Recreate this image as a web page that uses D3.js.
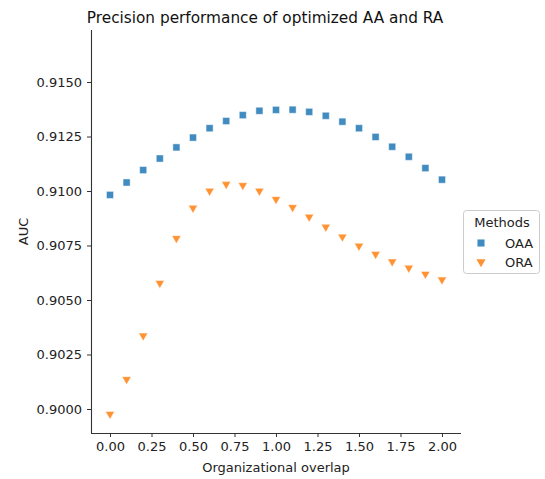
<!DOCTYPE html>
<html>
<head>
<meta charset="utf-8">
<script src="https://cdn.jsdelivr.net/npm/d3@7"></script>
<style>
  body { margin: 0; background: #fff; }
  svg { font-family: "DejaVu Sans", sans-serif; }
</style>
</head>
<body>
<svg id="chart" width="545" height="479"></svg>
<script>
const overlap = [0.0,0.1,0.2,0.3,0.4,0.5,0.6,0.7,0.8,0.9,1.0,1.1,1.2,1.3,1.4,1.5,1.6,1.7,1.8,1.9,2.0];
const oaa = [0.90982,0.91039,0.91096,0.91149,0.91200,0.91245,0.91288,0.91321,0.91348,0.91368,0.91372,0.91373,0.91363,0.91345,0.91318,0.91288,0.91248,0.91203,0.91157,0.91105,0.91052];
const ora = [0.89977,0.90136,0.90336,0.90577,0.90783,0.90922,0.91000,0.91031,0.91026,0.91000,0.90962,0.90925,0.90881,0.90835,0.90790,0.90748,0.90710,0.90676,0.90647,0.90619,0.90593];
const xTicks = [0.00,0.25,0.50,0.75,1.00,1.25,1.50,1.75,2.00];
const yTicks = [0.9000,0.9025,0.9050,0.9075,0.9100,0.9125,0.9150];
const seriesNames = ["OAA","ORA"];
const colors = ["#1f77b4","#ff7f0e"];

const svg = d3.select("#chart");
const L = 91, R = 461, T = 30, B = 433;
const x = d3.scaleLinear().domain([-0.1145, 2.1145]).range([L, R]);
const y = d3.scaleLinear().domain([0.9000, 0.9150]).range([409, 82]);

// axes
const gx = svg.append("g").attr("transform", `translate(0,${B})`)
  .call(d3.axisBottom(x).tickValues(xTicks).tickFormat(d3.format(".2f")).tickSize(4).tickPadding(5).tickSizeOuter(0));
const gy = svg.append("g").attr("transform", `translate(${L},0)`)
  .call(d3.axisLeft(y).tickValues(yTicks).tickFormat(d3.format(".4f")).tickSize(4).tickPadding(5).tickSizeOuter(0));
[gx, gy].forEach(g => {
  g.select(".domain").attr("stroke", "#333").attr("stroke-width", 1.1);
  g.selectAll(".tick line").attr("stroke", "#333");
  g.selectAll(".tick text").attr("fill", "#222").style("font-size", "13px").style("font-family", "DejaVu Sans");
});
gx.select(".domain").attr("d", `M${L},0.5H${R}`);
gy.select(".domain").attr("d", `M0.5,${T}V${B}`);

// labels
svg.append("text").attr("x", (L + R) / 2).attr("y", 472).attr("text-anchor", "middle")
  .style("font-size", "13px").attr("fill", "#222").text("Organizational overlap");
svg.append("text").attr("transform", `translate(28,${(T + B) / 2}) rotate(-90)`).attr("text-anchor", "middle")
  .style("font-size", "13px").attr("fill", "#222").text("AUC");
svg.append("text").attr("x", 265).attr("y", 23).attr("text-anchor", "middle")
  .style("font-size", "15.3px").attr("fill", "#111").text("Precision performance of optimized AA and RA");

// marks
const sq = d3.symbol().type(d3.symbolSquare).size(50);
const tri = d3.symbol().type(d3.symbolTriangle).size(36);

svg.append("g").selectAll("path").data(overlap.map((v, i) => [v, oaa[i]])).join("path")
  .attr("d", sq).attr("transform", d => `translate(${x(d[0])},${y(d[1])})`)
  .attr("fill", colors[0]).attr("fill-opacity", 0.85).attr("stroke", "#fff").attr("stroke-opacity", 0.6).attr("stroke-width", 0.8);
svg.append("g").selectAll("path").data(overlap.map((v, i) => [v, ora[i]])).join("path")
  .attr("d", tri).attr("transform", d => `translate(${x(d[0])},${y(d[1])}) rotate(180)`)
  .attr("fill", colors[1]).attr("fill-opacity", 0.85).attr("stroke", "#fff").attr("stroke-opacity", 0.6).attr("stroke-width", 0.8);

// legend
const lg = svg.append("g");
lg.append("rect").attr("x", 463.5).attr("y", 210.5).attr("width", 76).attr("height", 63).attr("rx", 3)
  .attr("fill", "#fff").attr("stroke", "#ccc").attr("stroke-width", 1);
lg.append("text").attr("x", 502).attr("y", 227).attr("text-anchor", "middle")
  .style("font-size", "13px").attr("fill", "#222").text("Methods");
lg.append("path").attr("d", sq).attr("transform", "translate(481,243)")
  .attr("fill", colors[0]).attr("fill-opacity", 0.85);
lg.append("path").attr("d", tri).attr("transform", "translate(481,262) rotate(180)")
  .attr("fill", colors[1]).attr("fill-opacity", 0.85);
lg.append("text").attr("x", 505).attr("y", 248).style("font-size", "13px").attr("fill", "#222").text(seriesNames[0]);
lg.append("text").attr("x", 505).attr("y", 267).style("font-size", "13px").attr("fill", "#222").text(seriesNames[1]);
</script>
</body>
</html>
